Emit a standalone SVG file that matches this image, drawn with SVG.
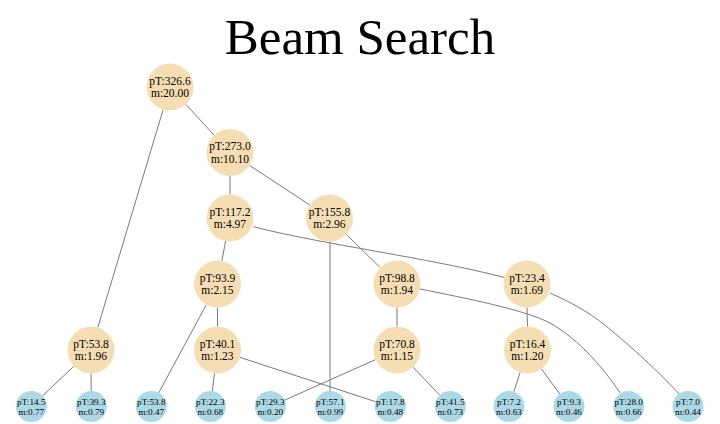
<svg xmlns="http://www.w3.org/2000/svg" width="720" height="424" viewBox="0 0 720 424">
<style>
.e{fill:none;stroke:#7a7a7a;stroke-width:1}
.in circle{fill:#f5deb3;stroke:none}
.lf circle{fill:#add8e6;stroke:none}
text{font-family:"Liberation Serif","Times New Roman",serif;fill:#000;text-anchor:middle}
.in text{font-size:11.5px}
.lf text{font-size:9.2px}
.title{font-size:51px}
</style>
<rect width="720" height="424" fill="#fff"/>
<text class="title" x="360" y="54">Beam Search</text>
<g id="connectors">
<path class="e" d="M185.9,104.3 L214.1,135.2"/>
<path class="e" d="M163.2,109.5 L97.8,327.5"/>
<path class="e" d="M230,176 L230,194.5"/>
<path class="e" d="M249.6,165.4 L309.9,205.1"/>
<path class="e" d="M346.3,234.4 L380.2,267.6"/>
<path class="e" d="M330,241.5 L330,391"/>
<path class="e" d="M225.6,241.1 L221.9,260.9"/>
<path class="e" d="M217.5,307.5 L217.5,326.5"/>
<path class="e" d="M206.3,304.7 L158.7,392.9"/>
<path class="e" d="M214.5,373.3 L212.3,391.1"/>
<path class="e" d="M239.8,357.3 L375.6,401.7"/>
<path class="e" d="M397,307.5 L397,326.5"/>
<path class="e" d="M375.5,359.6 L284.5,400.2"/>
<path class="e" d="M413.1,367.1 L439.7,395.2"/>
<path class="e" d="M527,307.5 L527.5,326.5"/>
<path class="e" d="M520.2,372.3 L513.8,391.8"/>
<path class="e" d="M541.4,368.9 L559.8,394"/>
<path class="e" d="M73.9,366.2 L42.5,395.9"/>
<path class="e" d="M91,373.5 L91.2,391"/>
<path class="e" d="M253.3,226.7 C320,244 430,258 504.5,277.5"/>
<path class="e" d="M420,289 C470,299 525,310 550,323 C580,340 605,370 620,393"/>
<path class="e" d="M550,293 C575,304 595,316 612,331 C635,350 665,378 679,394"/>
</g>
<g id="n326" class="in"><circle cx="170" cy="87" r="23.5"/><text x="170" y="84.8">pT:326.6</text><text x="170" y="97.2">m:20.00</text></g>
<g id="n273" class="in"><circle cx="230" cy="152.5" r="23.5"/><text x="230" y="150.3">pT:273.0</text><text x="230" y="162.7">m:10.10</text></g>
<g id="n117" class="in"><circle cx="230" cy="218" r="23.5"/><text x="230" y="215.8">pT:117.2</text><text x="230" y="228.2">m:4.97</text></g>
<g id="n155" class="in"><circle cx="329.5" cy="218" r="23.5"/><text x="329.5" y="215.8">pT:155.8</text><text x="329.5" y="228.2">m:2.96</text></g>
<g id="n93" class="in"><circle cx="217.5" cy="284" r="23.5"/><text x="217.5" y="281.8">pT:93.9</text><text x="217.5" y="294.2">m:2.15</text></g>
<g id="n98" class="in"><circle cx="397" cy="284" r="23.5"/><text x="397" y="281.8">pT:98.8</text><text x="397" y="294.2">m:1.94</text></g>
<g id="n23" class="in"><circle cx="527" cy="284" r="23.5"/><text x="527" y="281.8">pT:23.4</text><text x="527" y="294.2">m:1.69</text></g>
<g id="n53" class="in"><circle cx="91" cy="350" r="23.5"/><text x="91" y="347.8">pT:53.8</text><text x="91" y="360.2">m:1.96</text></g>
<g id="n40" class="in"><circle cx="217.5" cy="350" r="23.5"/><text x="217.5" y="347.8">pT:40.1</text><text x="217.5" y="360.2">m:1.23</text></g>
<g id="n70" class="in"><circle cx="397" cy="350" r="23.5"/><text x="397" y="347.8">pT:70.8</text><text x="397" y="360.2">m:1.15</text></g>
<g id="n16" class="in"><circle cx="527.5" cy="350" r="23.5"/><text x="527.5" y="347.8">pT:16.4</text><text x="527.5" y="360.2">m:1.20</text></g>
<g id="l1" class="lf"><circle cx="31.3" cy="406.5" r="15.5"/><text x="31.3" y="405.2">pT:14.5</text><text x="31.3" y="414.6">m:0.77</text></g>
<g id="l2" class="lf"><circle cx="91.3" cy="406.5" r="15.5"/><text x="91.3" y="405.2">pT:39.3</text><text x="91.3" y="414.6">m:0.79</text></g>
<g id="l3" class="lf"><circle cx="151.3" cy="406.5" r="15.5"/><text x="151.3" y="405.2">pT:53.8</text><text x="151.3" y="414.6">m:0.47</text></g>
<g id="l4" class="lf"><circle cx="210.3" cy="406.5" r="15.5"/><text x="210.3" y="405.2">pT:22.3</text><text x="210.3" y="414.6">m:0.68</text></g>
<g id="l5" class="lf"><circle cx="270.3" cy="406.5" r="15.5"/><text x="270.3" y="405.2">pT:29.3</text><text x="270.3" y="414.6">m:0.20</text></g>
<g id="l6" class="lf"><circle cx="330.3" cy="406.5" r="15.5"/><text x="330.3" y="405.2">pT:57.1</text><text x="330.3" y="414.6">m:0.99</text></g>
<g id="l7" class="lf"><circle cx="390.3" cy="406.5" r="15.5"/><text x="390.3" y="405.2">pT:17.8</text><text x="390.3" y="414.6">m:0.48</text></g>
<g id="l8" class="lf"><circle cx="450.3" cy="406.5" r="15.5"/><text x="450.3" y="405.2">pT:41.5</text><text x="450.3" y="414.6">m:0.73</text></g>
<g id="l9" class="lf"><circle cx="509" cy="406.5" r="15.5"/><text x="509" y="405.2">pT:7.2</text><text x="509" y="414.6">m:0.63</text></g>
<g id="l10" class="lf"><circle cx="569" cy="406.5" r="15.5"/><text x="569" y="405.2">pT:9.3</text><text x="569" y="414.6">m:0.46</text></g>
<g id="l11" class="lf"><circle cx="628.7" cy="406.5" r="15.5"/><text x="628.7" y="405.2">pT:28.0</text><text x="628.7" y="414.6">m:0.66</text></g>
<g id="l12" class="lf"><circle cx="688" cy="406.5" r="15.5"/><text x="688" y="405.2">pT:7.0</text><text x="688" y="414.6">m:0.44</text></g>
</svg>
